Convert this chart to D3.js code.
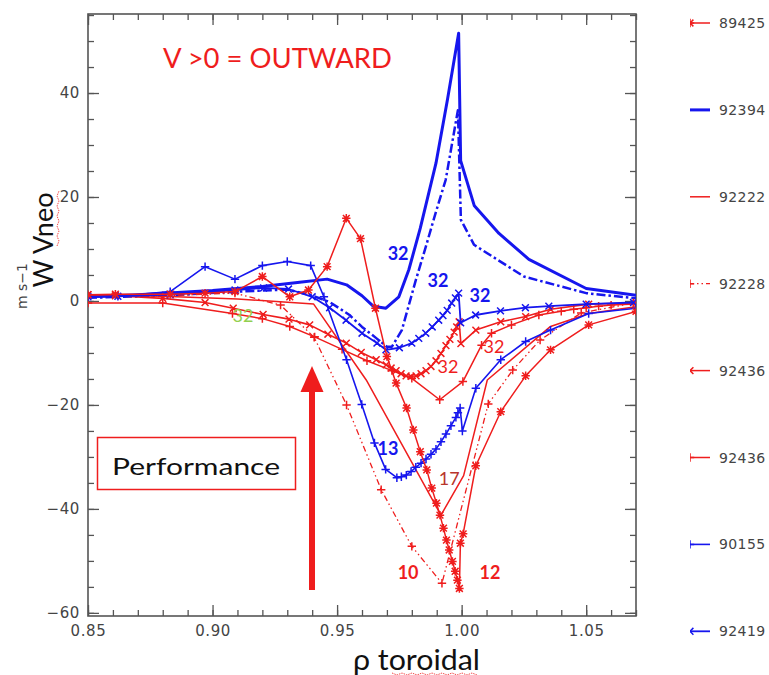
<!DOCTYPE html>
<html>
<head>
<meta charset="utf-8">
<script src="https://cdn.jsdelivr.net/npm/d3@7"></script>
<style>
  body { margin: 0; background: #fff; }
  svg { display: block; }
</style>
</head>
<body>
<div class="chart"></div>
<script>
const width = 769,
  height = 675,
  blue = '#1616ee',
  red = '#ef1d1d';

// rho / velocity pairs, one pair of arrays per shot
const rho89425 = [0.850, 0.861, 0.883, 0.897, 0.909, 0.920, 0.931, 0.9385, 0.946, 0.9537, 0.9594, 0.9654, 0.970, 0.9737, 0.9779, 0.9806, 0.9834, 0.986, 0.988, 0.9899, 0.9913, 0.9927, 0.9939, 0.995, 0.9963, 0.9974, 0.9983, 0.9991, 0.9995, 1.0006, 1.0057, 1.0157, 1.0257, 1.0357, 1.051, 1.07];
const v89425 = [1.2, 1.3, 1.3, 1.5, 1.8, 4.7, 0.8, 2.1, 6.6, 15.9, 12.0, -1.4, -10.7, -15.8, -20.6, -24.8, -29.0, -32.5, -36.0, -38.9, -41.2, -43.7, -46.0, -47.9, -50.1, -52.0, -53.7, -55.3, -46.6, -44.8, -31.7, -21.3, -14.4, -9.4, -4.6, -2.0];

const rho92394 = [0.85, 0.87, 0.90, 0.92, 0.935, 0.946, 0.9538, 0.960, 0.9645, 0.9696, 0.9748, 0.9788, 0.9834, 0.9897, 0.9943, 0.9988, 0.9996, 1.0051, 1.015, 1.027, 1.05, 1.07];
const v92394 = [0.8, 1.2, 2.0, 2.8, 3.6, 4.2, 3.1, 1.0, -1.0, -1.4, 0.8, 6.0, 14.0, 26.5, 38.7, 51.5, 27.0, 18.3, 13.0, 8.0, 2.4, 1.1];

// blue dash-dot curve (no legend entry)
const rhoBlueDash = [0.85, 0.88, 0.91, 0.93, 0.939, 0.947, 0.955, 0.960, 0.9656, 0.970, 0.972, 0.976, 0.9816, 0.9856, 0.9896, 0.9936, 0.9985, 0.9997, 1.005, 1.025, 1.05, 1.07];
const vBlueDash = [0.6, 1.0, 1.8, 2.2, 1.2, -0.2, -2.7, -5.0, -7.1, -8.8, -8.8, -5.6, 4.0, 10.4, 17.0, 23.3, 36.7, 15.6, 10.8, 4.7, 1.5, 0.5];

const rho92222 = [0.85, 0.88, 0.91, 0.9406, 0.9617, 0.9917, 1.0008, 1.0103, 1.0357, 1.051, 1.07];
const v92222 = [1.2, 0.9, 0.4, -0.6, -15.2, -41.2, -33.6, -15.2, -4.9, -2.4, -1.1];

const rho92228 = [0.85, 0.88, 0.909, 0.9273, 0.9408, 0.9538, 0.9677, 0.980, 0.9921, 1.0107, 1.0205, 1.0315, 1.048, 1.069];
const v92228 = [0.8, 1.0, 1.5, -0.8, -7.0, -20.0, -36.3, -47.2, -54.3, -19.8, -13.3, -7.5, -2.3, -0.4];

const rho92436x = [0.85, 0.861, 0.88, 0.897, 0.9083, 0.9203, 0.9307, 0.939, 0.9463, 0.9537, 0.9597, 0.9657, 0.9697, 0.9717, 0.9737, 0.9757, 0.9777, 0.9797, 0.9817, 0.9837, 0.9857, 0.9877, 0.9897, 0.9917, 0.9937, 0.9953, 0.997, 0.998, 0.999, 0.9997, 1.0057, 1.0157, 1.0257, 1.0357, 1.051, 1.07];
const v92436x = [1.2, 1.0, 0.5, -0.3, -1.4, -2.6, -3.5, -4.6, -6.4, -8.1, -9.9, -11.3, -12.3, -12.9, -13.4, -14.0, -14.4, -14.5, -14.4, -14.0, -13.4, -12.6, -11.5, -10.1, -8.6, -7.4, -6.0, -5.0, -4.0, -8.2, -5.6, -4.0, -3.0, -1.6, -0.6, -0.4];

const rho92436p = [0.85, 0.88, 0.908, 0.92, 0.931, 0.941, 0.952, 0.962, 0.972, 0.980, 0.9912, 1.0005, 1.008, 1.012, 1.020, 1.031, 1.040, 1.045, 1.05, 1.055, 1.06, 1.07];
const v92436p = [-0.4, -0.4, -2.4, -3.4, -4.9, -6.9, -9.3, -11.5, -13.4, -14.9, -19.0, -15.5, -8.5, -6.2, -4.6, -2.7, -2.0, -1.6, -1.3, -1.0, -0.8, -0.6];

const rho90155 = [0.85, 0.862, 0.883, 0.897, 0.909, 0.920, 0.930, 0.9394, 0.9447, 0.9538, 0.9599, 0.965, 0.9695, 0.974, 0.9758, 0.9778, 0.9797, 0.9816, 0.9837, 0.9857, 0.9877, 0.9897, 0.9917, 0.9937, 0.9957, 0.9977, 0.9985, 0.9994, 1.0003, 1.0057, 1.0157, 1.0257, 1.0357, 1.051, 1.07];
const v90155 = [0.8, 0.9, 1.8, 6.6, 4.2, 6.8, 7.6, 6.8, 0.8, -11.3, -19.9, -27.3, -32.4, -34.0, -33.8, -33.5, -32.8, -32.0, -31.2, -30.4, -29.5, -28.5, -27.1, -25.6, -24.0, -22.4, -21.5, -20.6, -25.0, -16.8, -11.3, -7.8, -5.6, -2.4, -1.4];

const rho92419 = [0.85, 0.862, 0.883, 0.909, 0.9205, 0.9305, 0.940, 0.947, 0.9536, 0.960, 0.966, 0.9696, 0.975, 0.980, 0.9828, 0.9856, 0.9882, 0.9908, 0.9925, 0.9942, 0.996, 0.9975, 0.9988, 0.9996, 1.0056, 1.0156, 1.0256, 1.035, 1.05, 1.069];
const v92419 = [0.8, 0.9, 1.2, 2.1, 2.5, 2.3, 0.8, -1.3, -3.7, -6.2, -8.1, -9.4, -9.0, -8.1, -7.2, -6.2, -5.0, -3.7, -2.8, -1.8, -0.4, 0.6, 1.5, -4.2, -2.7, -1.9, -1.3, -1.0, -0.6, -0.3];

const legendLabels = ['89425', '92394', '92222', '92228', '92436', '92436', '90155', '92419'];
const xMajorTicks = [0.85, 0.90, 0.95, 1.00, 1.05];
const yMajorTicks = [-60, -40, -20, 0, 20, 40];

const curveLabels = [
  { text: '32', rho: 0.9745, v: 9.2, color: blue, weight: 'bold' },
  { text: '32', rho: 0.9905, v: 4.0, color: blue, weight: 'bold' },
  { text: '32', rho: 1.0074, v: 1.2, color: blue, weight: 'bold' },
  { text: '32', rho: 0.9945, v: -12.5, color: red, weight: 'normal' },
  { text: '32', rho: 1.0130, v: -8.7, color: red, weight: 'normal' },
  { text: '32', rho: 0.9122, v: -2.7, color: '#92d050', weight: 'normal' },
  { text: '13', rho: 0.9704, v: -28.3, color: blue, weight: 'bold' },
  { text: '17', rho: 0.9950, v: -34.1, color: '#b8352c', weight: 'normal' },
  { text: '10', rho: 0.9785, v: -52.1, color: red, weight: 'bold' },
  { text: '12', rho: 1.0114, v: -52.1, color: red, weight: 'bold' }
];

const dashDot = '9,3,2.5,3',
  dashDotDot = '6,3,1.5,3,1.5,3';

const series = [
  { rho: rho92394, v: v92394, color: blue, width: 3, dash: null, marker: null },
  { rho: rhoBlueDash, v: vBlueDash, color: blue, width: 2.5, dash: dashDot, marker: null },
  { rho: rho92222, v: v92222, color: red, width: 1.5, dash: null, marker: null },
  { rho: rho92228, v: v92228, color: red, width: 1.3, dash: dashDotDot, marker: 'plus' },
  { rho: rho92436p, v: v92436p, color: red, width: 1.5, dash: null, marker: 'plus' },
  { rho: rho92436x, v: v92436x, color: red, width: 1.6, dash: null, marker: 'times' },
  { rho: rho90155, v: v90155, color: blue, width: 1.6, dash: null, marker: 'plus' },
  { rho: rho92419, v: v92419, color: blue, width: 1.8, dash: null, marker: 'times' },
  { rho: rho89425, v: v89425, color: red, width: 1.5, dash: null, marker: 'asterisk' }
];

const legendStyles = [
  { color: red, width: 1.5, dash: null, marker: 'asterisk' },
  { color: blue, width: 3, dash: null, marker: null },
  { color: red, width: 1.5, dash: null, marker: null },
  { color: red, width: 1.3, dash: dashDotDot, marker: 'plus' },
  { color: red, width: 1.5, dash: null, marker: 'times' },
  { color: red, width: 1.5, dash: null, marker: 'plus' },
  { color: blue, width: 1.6, dash: null, marker: 'plus' },
  { color: blue, width: 1.8, dash: null, marker: 'times' }
];

const plotLeft = 88, plotRight = 636, plotTop = 14, plotBottom = 616;

const svg = d3.select('.chart')
  .append('svg')
  .attr('width', width)
  .attr('height', height);

svg.append('rect').attr('width', width).attr('height', height).attr('fill', '#fff');

const xScale = d3.scaleLinear()
  .domain([0.85, 1.07])
  .range([plotLeft, plotRight]);

const yScale = d3.scaleLinear()
  .domain([-60.6, 55.2])
  .range([plotBottom, plotTop]);

const tickFont = '"DejaVu Sans", sans-serif';

function styleAxis(g) {
  g.select('.domain').remove();
  g.selectAll('line').attr('stroke', '#555').attr('stroke-width', 1.3);
  g.selectAll('text')
    .style('font', `15px ${tickFont}`)
    .style('letter-spacing', '0.6px')
    .attr('fill', '#444');
}

const xMinor = d3.range(0.85, 1.0705, 0.01);
const yMinor = d3.range(-60, 55.1, 5);

// bottom
svg.append('g')
  .attr('transform', `translate(0, ${plotBottom})`)
  .call(d3.axisBottom(xScale).tickValues(xMajorTicks).tickSize(-11).tickPadding(9).tickFormat(d3.format('.2f')))
  .call(styleAxis);
svg.append('g')
  .attr('transform', `translate(0, ${plotBottom})`)
  .call(d3.axisBottom(xScale).tickValues(xMinor).tickSize(-6).tickFormat(''))
  .call(styleAxis);
// top
svg.append('g')
  .attr('transform', `translate(0, ${plotTop})`)
  .call(d3.axisTop(xScale).tickValues(xMajorTicks).tickSize(-11).tickFormat(''))
  .call(styleAxis);
svg.append('g')
  .attr('transform', `translate(0, ${plotTop})`)
  .call(d3.axisTop(xScale).tickValues(xMinor).tickSize(-6).tickFormat(''))
  .call(styleAxis);
// left
svg.append('g')
  .attr('transform', `translate(${plotLeft}, 0)`)
  .call(d3.axisLeft(yScale).tickValues(yMajorTicks).tickSize(-11).tickPadding(8)
    .tickFormat(d => d < 0 ? '\u2212' + Math.abs(d) : String(d)))
  .call(styleAxis);
svg.append('g')
  .attr('transform', `translate(${plotLeft}, 0)`)
  .call(d3.axisLeft(yScale).tickValues(yMinor).tickSize(-6).tickFormat(''))
  .call(styleAxis);
// right
svg.append('g')
  .attr('transform', `translate(${plotRight}, 0)`)
  .call(d3.axisRight(yScale).tickValues(yMajorTicks).tickSize(-11).tickFormat(''))
  .call(styleAxis);
svg.append('g')
  .attr('transform', `translate(${plotRight}, 0)`)
  .call(d3.axisRight(yScale).tickValues(yMinor).tickSize(-6).tickFormat(''))
  .call(styleAxis);

svg.append('rect')
  .attr('x', plotLeft)
  .attr('y', plotTop)
  .attr('width', plotRight - plotLeft)
  .attr('height', plotBottom - plotTop)
  .attr('fill', 'none')
  .attr('stroke', '#555')
  .attr('stroke-width', 1.6);

svg.append('clipPath').attr('id', 'plotClip')
  .append('rect')
  .attr('x', plotLeft).attr('y', plotTop)
  .attr('width', plotRight - plotLeft).attr('height', plotBottom - plotTop);

function markerPath(type, cx, cy) {
  const s = 4.2, d = 3.4;
  const plus = `M${cx - s},${cy}L${cx + s},${cy}M${cx},${cy - s}L${cx},${cy + s}`;
  const times = `M${cx - d},${cy - d}L${cx + d},${cy + d}M${cx - d},${cy + d}L${cx + d},${cy - d}`;
  if (type === 'plus') return plus;
  if (type === 'times') return times;
  return plus + times;
}

const plot = svg.append('g').attr('clip-path', 'url(#plotClip)');

const line = d3.line()
  .x(d => xScale(d[0]))
  .y(d => yScale(d[1]));

series.forEach(s => {
  const pts = s.rho.map((r, i) => [r, s.v[i]]);
  plot.append('path')
    .attr('d', line(pts))
    .attr('fill', 'none')
    .attr('stroke', s.color)
    .attr('stroke-width', s.width)
    .attr('stroke-dasharray', s.dash)
    .attr('stroke-linejoin', 'round');
  if (s.marker) {
    plot.append('path')
      .attr('d', pts.map(p => markerPath(s.marker, xScale(p[0]), yScale(p[1]))).join(''))
      .attr('fill', 'none')
      .attr('stroke', s.color)
      .attr('stroke-width', 1.5);
  }
});

// curve annotations
svg.append('g')
  .selectAll('text')
  .data(curveLabels)
  .join('text')
  .attr('x', d => xScale(d.rho))
  .attr('y', d => yScale(d.v))
  .attr('text-anchor', 'middle')
  .attr('dominant-baseline', 'central')
  .attr('fill', d => d.color)
  .style('font', d => `${d.weight} 18px Lato, sans-serif`)
  .text(d => d.text);

// "V >0 = OUTWARD"
svg.append('text')
  .attr('x', 163)
  .attr('y', 68)
  .attr('fill', red)
  .attr('textLength', 229)
  .attr('lengthAdjust', 'spacingAndGlyphs')
  .style('font', '27px Lato, sans-serif')
  .text('V >0 = OUTWARD');

// Performance box
svg.append('rect')
  .attr('x', 97.5).attr('y', 437.5)
  .attr('width', 198).attr('height', 52)
  .attr('fill', '#fff')
  .attr('stroke', red)
  .attr('stroke-width', 1.5);
svg.append('text')
  .attr('x', 112)
  .attr('y', 475)
  .attr('fill', '#111')
  .attr('textLength', 168)
  .attr('lengthAdjust', 'spacingAndGlyphs')
  .style('font', '24px Lato, sans-serif')
  .text('Performance');

// big arrow
svg.append('line')
  .attr('x1', 312).attr('x2', 312)
  .attr('y1', 590).attr('y2', 388)
  .attr('stroke', red)
  .attr('stroke-width', 6);
svg.append('path')
  .attr('d', 'M312,366L300.5,392L323.5,392Z')
  .attr('fill', red);

// axis titles
svg.append('text')
  .attr('x', 353)
  .attr('y', 670)
  .attr('fill', '#111')
  .attr('textLength', 127)
  .attr('lengthAdjust', 'spacingAndGlyphs')
  .style('font', '28px Lato, sans-serif')
  .text('ρ toroidal');
svg.append('path')
  .attr('d', d3.range(0, 9).map(i => `${i ? 'L' : 'M'}${392 + i * 10},673L${397 + i * 10},675`).join(''))
  .attr('fill', 'none')
  .attr('stroke', red)
  .attr('stroke-width', 0.8)
  .attr('stroke-dasharray', '1.5,1');

svg.append('text')
  .attr('transform', 'translate(53, 240) rotate(-90)')
  .attr('text-anchor', 'middle')
  .attr('fill', '#111')
  .style('font', '27px Lato, sans-serif')
  .text('W  Vneo');
svg.append('path')
  .attr('d', d3.range(0, 6).map(i => `${i ? 'L' : 'M'}${57},${246 - i * 10}L${59},${241 - i * 10}`).join(''))
  .attr('fill', 'none')
  .attr('stroke', red)
  .attr('stroke-width', 0.8)
  .attr('stroke-dasharray', '1.5,1');

svg.append('text')
  .attr('transform', 'translate(27, 286) rotate(-90)')
  .attr('text-anchor', 'middle')
  .attr('fill', '#444')
  .style('font', `14px ${tickFont}`)
  .text('m s\u22121');

// legend, cropped at its left edge like the source
svg.append('clipPath').attr('id', 'legendClip')
  .append('rect').attr('x', 690).attr('y', 0).attr('width', 79).attr('height', height);

const legend = svg.append('g');
legendLabels.forEach((label, i) => {
  const st = legendStyles[i];
  const ly = 23 + i * 86.9;
  const lg = legend.append('g').attr('clip-path', 'url(#legendClip)');
  lg.append('line')
    .attr('x1', 688).attr('x2', 710)
    .attr('y1', ly).attr('y2', ly)
    .attr('stroke', st.color)
    .attr('stroke-width', st.width)
    .attr('stroke-dasharray', st.dash);
  if (st.marker) {
    lg.append('path')
      .attr('d', markerPath(st.marker, 690, ly))
      .attr('fill', 'none')
      .attr('stroke', st.color)
      .attr('stroke-width', 1.5);
  }
  legend.append('text')
    .attr('x', 719)
    .attr('y', ly)
    .attr('dominant-baseline', 'central')
    .attr('fill', '#444')
    .style('font', `14px ${tickFont}`)
    .style('letter-spacing', '0.4px')
    .text(label);
});
</script>
</body>
</html>
